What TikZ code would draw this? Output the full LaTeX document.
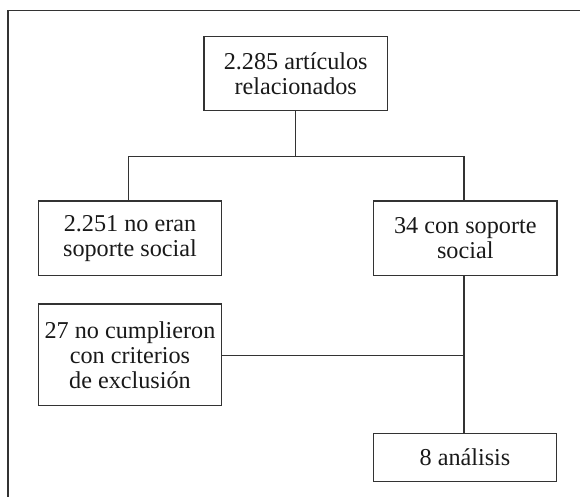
\documentclass[tikz,border=0pt]{standalone}
\usepackage{fontspec}
\setmainfont{Liberation Serif}
\begin{document}
\begin{tikzpicture}[x=1pt,y=1pt,
  box/.style={draw=black!80, line width=1.2pt, text=black!90, align=center,
    inner sep=0pt, minimum width=183.4pt, font=\fontsize{24.2}{25}\selectfont},
  link/.style={draw=black!80, line width=1.2pt}]
\useasboundingbox (0,0) rectangle (580,497);
% frame (cropped at right and bottom)
\draw[link] (8,-5) -- (8,486.3) -- (585,486.3);
\node[box, minimum height=74pt] (top) at (295.7,423.3) {2.285 artículos\\relacionados};
\node[box, minimum height=74.7pt] (left) at (130,258.65) {2.251 no eran\\soporte social};
\node[box, minimum height=74.7pt] (right) at (465.3,258.65) {34 con soporte\\social};
\node[box, minimum height=101.7pt] (excl) at (130,142.15) {27 no cumplieron\\con criterios\\de exclusión};
\node[box, minimum height=48.4pt] (ana) at (465,39.5) {8 análisis};
\coordinate (split) at (295.7,340.3);
\coordinate (lj) at (128.7,340.3);
\coordinate (rj) at (464,340.3);
\coordinate (ej) at (464,141.3);
\draw[link] (top.south) -- (split);
\draw[link] (left.north -| lj) -- (lj) -- (rj) -- (right.north -| rj);
\draw[link] (right.south -| rj) -- (ana.north -| rj);
\draw[link] (excl.east |- ej) -- (ej);
\end{tikzpicture}
\end{document}
